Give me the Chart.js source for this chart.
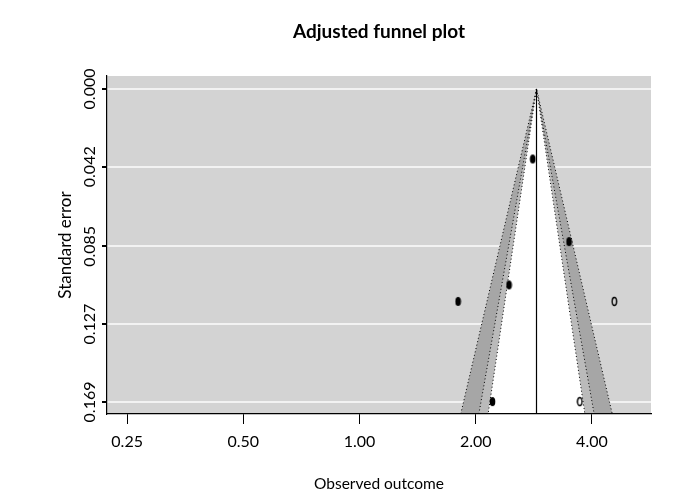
<!DOCTYPE html>
<html>
<head>
<meta charset="utf-8">
<script src="https://cdn.jsdelivr.net/npm/chart.js@4.4.0/dist/chart.umd.min.js"></script>
<style>
  html, body { margin: 0; padding: 0; background: #fff; }
  #wrap { width: 676px; height: 499px; }
</style>
</head>
<body>
<div id="wrap"><canvas id="grafico-funil"></canvas></div>
<script>
// Estudos observados (razão, erro padrão)
const observados = [2.81, 3.49, 2.44, 1.80, 2.21];
const erroObservados = [0.0378, 0.0824, 0.1058, 0.1147, 0.1688];
// Estudos imputados (trim and fill)
const imputados = [4.57, 3.72];
const erroImputados = [0.1147, 0.1688];
// Estimativa combinada e contornos do funil
const estimativa = 2.874;
const niveisZ = [2.576, 1.96, 1.645];
const coresNiveis = ['#a6a6a6', '#bababa', '#ffffff'];
// Ticks
const ticksX = [0.25, 0.5, 1, 2, 4];
const rotulosX = ['0.25', '0.50', '1.00', '2.00', '4.00'];
const ticksY = [0, 0.042, 0.085, 0.127, 0.169];
const rotulosY = ['0.000', '0.042', '0.085', '0.127', '0.169'];

const xMin = 0.2217, xMax = 5.69;
const yMin = -0.0070, yMax = 0.1755;

function marcador(cheio) {
    const c = document.createElement('canvas');
    c.width = 7; c.height = 11;
    const g = c.getContext('2d');
    g.beginPath();
    g.ellipse(3.5, 5.5, cheio ? 2.8 : 2.2, cheio ? 4.6 : 4.0, 0, 0, Math.PI * 2);
    if (cheio) {
        g.fillStyle = '#000';
        g.fill();
    } else {
        g.lineWidth = 1.4;
        g.strokeStyle = '#000';
        g.stroke();
    }
    return c;
}

// triângulos do funil (contorno de cada nível)
const datasetsFunil = niveisZ.map((z, i) => {
    const lo = Math.exp(Math.log(estimativa) - z * yMax);
    const hi = Math.exp(Math.log(estimativa) + z * yMax);
    return {
        type: 'line',
        data: [{ x: estimativa, y: 0 }, { x: lo, y: yMax }, { x: hi, y: yMax }, { x: estimativa, y: 0 }],
        backgroundColor: coresNiveis[i],
        borderColor: '#000',
        borderWidth: 1,
        borderDash: [1, 2.5],
        fill: 'shape',
        pointRadius: 0,
        tension: 0,
        order: 10 - i
    };
});

const fundoPlugin = {
    id: 'fundo',
    beforeDraw(chart) {
        const { ctx, chartArea: a } = chart;
        ctx.save();
        ctx.fillStyle = '#d3d3d3';
        ctx.fillRect(a.left, a.top, a.right - a.left, a.bottom - a.top);
        ctx.restore();
    }
};

new Chart(document.getElementById('grafico-funil').getContext('2d'), {
    data: {
        datasets: [
            {
                type: 'scatter',
                data: observados.map((v, i) => ({ x: v, y: erroObservados[i] })),
                pointStyle: marcador(true),
                order: 0
            },
            {
                type: 'scatter',
                data: imputados.map((v, i) => ({ x: v, y: erroImputados[i] })),
                pointStyle: marcador(false),
                order: 0
            },
            {
                type: 'line',
                data: [{ x: estimativa, y: 0 }, { x: estimativa, y: yMax }],
                borderColor: '#000',
                borderWidth: 1.2,
                pointRadius: 0,
                fill: false,
                order: 1
            },
            ...datasetsFunil
        ]
    },
    options: {
        responsive: true,
        maintainAspectRatio: false,
        animation: false,
        layout: { padding: { left: 0, right: 25, top: 0, bottom: 0 } },
        plugins: {
            legend: { display: false },
            tooltip: { enabled: false },
            title: {
                display: true,
                fullSize: false,
                text: 'Adjusted funnel plot',
                color: '#000',
                font: { family: 'Lato', size: 19, weight: 'bold', lineHeight: 1.2 },
                padding: { top: 20.6, bottom: 32.6 }
            }
        },
        scales: {
            x: {
                type: 'logarithmic',
                min: xMin,
                max: xMax,
                afterBuildTicks: axis => { axis.ticks = ticksX.map(v => ({ value: v })); },
                afterFit: axis => { axis.height = 85; },
                ticks: {
                    color: '#000',
                    font: { family: 'Lato', size: 16 },
                    padding: 8,
                    maxRotation: 0,
                    autoSkip: false,
                    callback: (v) => rotulosX[ticksX.indexOf(v)] ?? ''
                },
                grid: { drawOnChartArea: false, color: '#000', tickColor: '#000', tickLength: 10 },
                border: { display: true, color: '#000', width: 1.2, z: 2 },
                title: {
                    display: true,
                    text: 'Observed outcome',
                    color: '#000',
                    font: { family: 'Lato', size: 15.5, lineHeight: 1.2 },
                    padding: { top: 0, bottom: 5.7 }
                }
            },
            y: {
                type: 'linear',
                reverse: true,
                min: yMin,
                max: yMax,
                afterBuildTicks: axis => { axis.ticks = ticksY.map(v => ({ value: v })); },
                afterFit: axis => { axis.width = 107; },
                ticks: {
                    color: '#000',
                    font: { family: 'Lato', size: 16 },
                    minRotation: 90,
                    maxRotation: 90,
                    crossAlign: 'center',
                    padding: -8,
                    autoSkip: false,
                    callback: (v) => rotulosY[ticksY.indexOf(v)] ?? ''
                },
                grid: { color: '#f2f2f2', lineWidth: 2, tickColor: '#000', tickLength: 5 },
                border: { display: true, color: '#000', width: 1.2, z: 2 },
                title: {
                    display: true,
                    text: 'Standard error',
                    color: '#000',
                    font: { family: 'Lato', size: 17, lineHeight: 1.2 },
                    padding: { top: 55.8, bottom: 0 }
                }
            }
        }
    },
    plugins: [fundoPlugin]
});
</script>
</body>
</html>
